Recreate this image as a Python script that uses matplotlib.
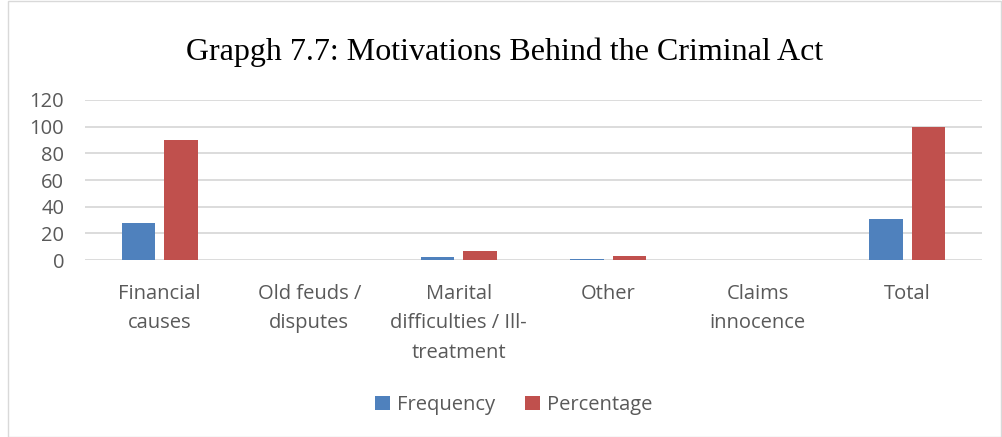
import matplotlib
matplotlib.use("Agg")
import matplotlib.pyplot as plt
import numpy as np
from matplotlib.patches import Rectangle

categories = ["Financial\ncauses", "Old feuds /\ndisputes", "Marital\ndifficulties / Ill-\ntreatment",
              "Other", "Claims\ninnocence", "Total"]
frequency = [28, 0, 2, 1, 0, 31]
percentage = [90.3, 0, 6.45, 3.2, 0, 100]
yticks = [0, 20, 40, 60, 80, 100, 120]

blue = "#4f81bd"
red = "#c0504d"
txt = "#595959"

fig = plt.figure(figsize=(10.03, 4.37), dpi=100)
fig.add_artist(Rectangle((0.008, 0.0), 0.99, 0.998, transform=fig.transFigure,
                         fill=False, edgecolor="#d9d9d9", linewidth=1.0))
ax = fig.add_axes([85/1003, 1-260/437, (982-85)/1003, 160/437])

x = np.arange(len(categories))
w = 0.225
gap = 0.03
ax.bar(x - w/2 - gap, frequency, w, color=blue, label="Frequency", zorder=3)
ax.bar(x + w/2 + gap, percentage, w, color=red, label="Percentage", zorder=3)

ax.set_xlim(-0.5, len(categories) - 0.5)
ax.set_ylim(0, 120)
ax.set_yticks(yticks)
ax.yaxis.grid(True, color="#d9d9d9", linewidth=1.3, zorder=0)
for s in ax.spines.values():
    s.set_visible(False)
ax.tick_params(axis="both", length=0, labelsize=14.5, labelcolor=txt)
ax.tick_params(axis="y", pad=15)
ax.tick_params(axis="x", pad=17)
ax.set_xticks(x)
ax.set_xticklabels(categories, fontfamily="Open Sans", linespacing=1.65, va="top")
for lab in ax.get_yticklabels():
    lab.set_fontfamily("Open Sans")

fig.text(0.503, 0.88, "Grapgh 7.7: Motivations Behind the Criminal Act",
         ha="center", va="center", fontfamily="Liberation Serif", fontsize=23, color="black")

leg = fig.legend(loc="center", bbox_to_anchor=(0.512, 0.073), ncol=2, frameon=False,
                 prop={"family": "Open Sans", "size": 14.5}, handlelength=0.75, handleheight=0.75,
                 columnspacing=1.5, handletextpad=0.35)
for t in leg.get_texts():
    t.set_color(txt)

fig.savefig("out.png", dpi=100)
